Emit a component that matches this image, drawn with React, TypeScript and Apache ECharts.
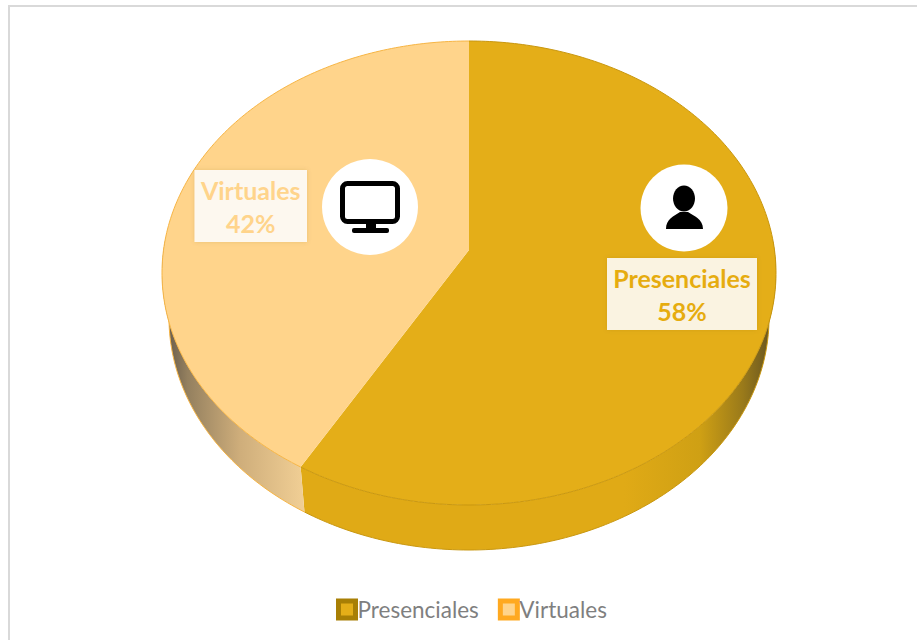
import React, { useEffect, useRef } from "react";
import * as echarts from "echarts";

const categories = ["Presenciales", "Virtuales"];
const values = [58, 42];
const topColors = ["#E4AE18", "#FFD48B"];
const rimColors = ["#C9970F", "#F7B544"];
const legendOuter = ["#A87F05", "#FFA920"];
const labelColors = ["#E6AC0F", "#FFD48B"];

const FONT = "Lato, 'Open Sans', sans-serif";
const CX = 469;
const TOP_CY = 273;
const BOTTOM_CY = 318;
const TOP_RX = 307;
const BOTTOM_RX = 300;
const RY = 232;
const APEX_Y = 250;
const SKEW = 0.15;

echarts.graphic.registerShape(
  "personShoulders",
  echarts.graphic.extendPath(
    "M666 229 C666 219 674 216 680 212 L688 212 C694 216 703 219 703 229 Z",
    {}
  )
);

// Position on the rim for a share of the whole (0..1), clockwise from the top.
function rim(share: number, cy: number, rx: number): number[] {
  const t = share * 2 * Math.PI;
  const u = Math.sin(t);
  const v = Math.cos(t);
  const d = 1 + SKEW * v;
  const px = (u * Math.sqrt(1 - SKEW * SKEW)) / d;
  const py = (v + SKEW) / d;
  return [CX + rx * px, cy - RY * py];
}

function arc(a: number, b: number, cy: number, rx: number): number[][] {
  const steps = Math.max(2, Math.ceil(Math.abs(b - a) * 400));
  const pts: number[][] = [];
  for (let i = 0; i <= steps; i++) pts.push(rim(a + ((b - a) * i) / steps, cy, rx));
  return pts;
}

const wallFills: any[] = [
  {
    type: "linear", x: 0, y: 0, x2: 1, y2: 0,
    colorStops: [
      { offset: 0, color: "#E0AA16" },
      { offset: 0.68, color: "#E0AA16" },
      { offset: 0.84, color: "#CFA014" },
      { offset: 0.93, color: "#9A7A1A" },
      { offset: 1, color: "#5F4F22" },
    ],
  },
  {
    type: "linear", x: 0, y: 0, x2: 1, y2: 0,
    colorStops: [
      { offset: 0, color: "#5E5346" },
      { offset: 0.18, color: "#94805F" },
      { offset: 0.55, color: "#CFAE7B" },
      { offset: 1, color: "#F1CF95" },
    ],
  },
];

function renderSlice(params: any, api: any) {
  const i = params.seriesIndex;
  const total = values.reduce((s, v) => s + v, 0);
  const before = values.slice(0, i).reduce((s, v) => s + v, 0);
  const a = before / total;
  const b = (before + api.value(0)) / total;

  const topRim = arc(a, b, TOP_CY, TOP_RX);
  const wa = Math.max(a, 0.25);
  const wb = Math.min(b, 0.75);
  const wallTop = arc(wa, wb, TOP_CY, TOP_RX);
  const wallBottom = arc(wb, wa, BOTTOM_CY, BOTTOM_RX);

  return {
    type: "group",
    children: [
      {
        type: "polygon",
        shape: { points: wallTop.concat(wallBottom) },
        style: { fill: wallFills[i], stroke: null },
      },
      {
        type: "polyline",
        shape: { points: wallBottom },
        style: { fill: null, stroke: rimColors[i], lineWidth: 1 },
      },
      {
        type: "polygon",
        shape: { points: [[CX, APEX_Y] as number[]].concat(topRim) },
        style: { fill: topColors[i], stroke: null },
      },
      {
        type: "polyline",
        shape: { points: topRim },
        style: { fill: null, stroke: rimColors[i], lineWidth: 1 },
      },
    ],
  };
}

function labelBox(i: number, x: number, y: number, w: number, h: number, fontSize: number) {
  return [
    {
      type: "rect",
      z: 20,
      shape: { x, y, width: w, height: h },
      style: {
        fill: "rgba(255,255,255,0.86)",
        shadowBlur: 4,
        shadowColor: "rgba(120,90,0,0.2)",
      },
    },
    {
      type: "text",
      z: 21,
      x: x + w / 2,
      y: y + h / 2 - 16,
      style: {
        text: categories[i],
        fill: labelColors[i],
        font: `bold ${fontSize}px ${FONT}`,
        textAlign: "center",
        textVerticalAlign: "middle",
      },
    },
    {
      type: "text",
      z: 21,
      x: x + w / 2,
      y: y + h / 2 + 17,
      style: {
        text: `${values[i]}%`,
        fill: labelColors[i],
        font: `bold ${fontSize}px ${FONT}`,
        textAlign: "center",
        textVerticalAlign: "middle",
      },
    },
  ];
}

export default function App() {
  const ref = useRef<HTMLDivElement>(null);
  useEffect(() => {
    const chart = echarts.init(ref.current!, null, { renderer: "svg" });
    chart.setOption({
      animation: false,
      backgroundColor: "#FFFFFF",
      legend: {
        left: 331,
        top: 593,
        itemWidth: 17,
        itemHeight: 17,
        itemGap: 19,
        icon: "rect",
        textStyle: { color: "#7F7F7F", fontSize: 22.5, fontFamily: FONT, padding: [0, 0, 0, -3] },
        data: categories.map((name, i) => ({
          name,
          itemStyle: { color: topColors[i], borderColor: legendOuter[i], borderWidth: 5 },
        })),
      },
      series: categories.map((name, i) => ({
        type: "custom",
        name,
        coordinateSystem: "none",
        color: topColors[i],
        renderItem: renderSlice,
        data: [[values[i]]],
        silent: true,
      })),
      graphic: [
        { type: "line", z: 5, shape: { x1: 9, y1: 6, x2: 917, y2: 6 }, style: { stroke: "#D9D9D9", lineWidth: 2 } },
        { type: "line", z: 5, shape: { x1: 9, y1: 5, x2: 9, y2: 640 }, style: { stroke: "#D9D9D9", lineWidth: 2 } },
        ...labelBox(1, 194.5, 170, 112.5, 72, 25),
        ...labelBox(0, 607, 258, 150, 72, 25),
        { type: "circle", z: 20, shape: { cx: 370, cy: 207, r: 48 }, style: { fill: "#FFFFFF" } },
        { type: "rect", z: 21, shape: { x: 342.5, y: 183.5, width: 55, height: 38, r: 5 }, style: { fill: "none", stroke: "#000000", lineWidth: 5 } },
        { type: "rect", z: 21, shape: { x: 366, y: 223, width: 10, height: 7 }, style: { fill: "#000000" } },
        { type: "rect", z: 21, shape: { x: 352, y: 228, width: 37, height: 5, r: 2 }, style: { fill: "#000000" } },
        { type: "circle", z: 20, shape: { cx: 684, cy: 208, r: 43.5 }, style: { fill: "#FFFFFF" } },
        { type: "ellipse", z: 21, shape: { cx: 684, cy: 198.5, rx: 11, ry: 13 }, style: { fill: "#000000" } },
        { type: "personShoulders", z: 21, x: 0, y: 0, style: { fill: "#000000" } },
      ],
    });
    return () => chart.dispose();
  }, []);
  return <div ref={ref} style={{ position: "absolute", left: 0, top: 0, width: 917, height: 640 }} />;
}
